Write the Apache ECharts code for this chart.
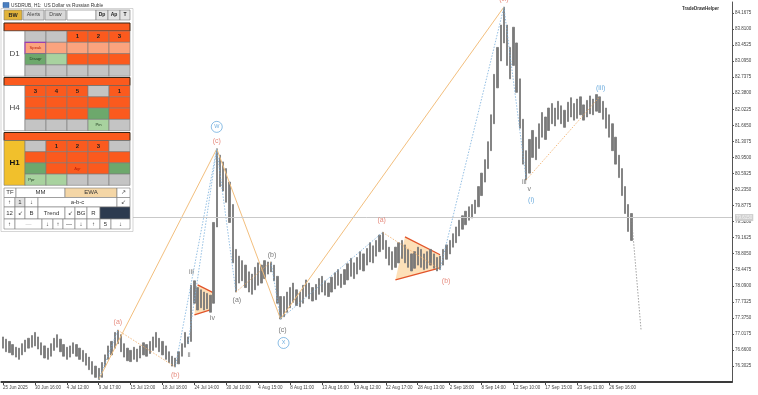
<!DOCTYPE html>
<html><head><meta charset="utf-8">
<script src="https://cdn.jsdelivr.net/npm/echarts@6/dist/echarts.min.js"></script>
<style>html,body{margin:0;padding:0;background:#fff}#c{width:758px;height:395px}</style>
</head><body><div id="c"></div>
<script>
// ---------- data ----------
const tickLabels = ['25 Jun 2025','30 Jun 16:00','4 Jul 12:00','9 Jul 17:00','15 Jul 13:00','18 Jul 18:00','24 Jul 14:00','30 Jul 10:00','4 Aug 15:00','8 Aug 11:00','13 Aug 16:00','19 Aug 12:00','22 Aug 17:00','28 Aug 13:00','2 Sep 18:00','8 Sep 14:00','12 Sep 10:00','17 Sep 15:00','23 Sep 11:00','26 Sep 16:00'];
const yTicks = [84.1675,83.8100,83.4525,83.0950,82.7375,82.3800,82.0225,81.6650,81.3075,80.9500,80.5925,80.2350,79.8775,79.5200,79.1625,78.8050,78.4475,78.0900,77.7325,77.3750,77.0175,76.6600,76.3025];
const lastPrice = 79.6150;
const highs = [76.95,76.90,76.85,76.78,76.72,76.70,76.80,76.88,76.92,76.98,77.05,76.95,76.82,76.75,76.70,76.80,76.92,77.00,76.90,76.78,
76.72,76.75,76.82,76.78,76.70,76.65,76.58,76.50,76.40,76.30,76.25,76.38,76.55,76.75,76.85,77.05,77.10,77.00,76.80,76.70,
76.65,76.72,76.68,76.75,76.82,76.78,76.85,76.95,77.05,76.92,76.85,76.75,76.62,76.52,76.48,76.62,76.80,77.05,76.95,78.10,
78.20,78.05,78.00,77.95,77.92,77.88,79.50,81.14,81.00,80.85,80.70,80.40,79.90,78.90,78.75,78.65,78.55,78.40,78.35,78.50,
78.60,78.55,78.65,78.62,78.62,78.55,78.30,77.85,77.85,77.95,78.05,78.15,78.00,77.95,78.10,78.22,78.15,78.05,78.12,78.25,
78.30,78.20,78.15,78.28,78.38,78.45,78.35,78.45,78.58,78.70,78.60,78.72,78.85,78.80,78.92,79.05,78.98,79.10,79.22,79.28,
79.10,78.95,78.85,78.95,79.05,79.10,79.00,78.90,78.80,78.85,78.95,78.90,78.80,78.85,78.90,78.80,78.72,78.75,78.90,79.00,
79.10,79.25,79.40,79.55,79.65,79.75,79.85,79.90,80.00,80.30,80.60,80.90,81.30,81.90,82.80,83.40,83.90,84.30,83.90,83.40,
83.85,83.50,82.70,81.80,81.10,81.35,81.55,81.40,81.70,81.95,81.85,82.05,82.15,82.05,82.20,82.10,82.00,82.18,82.28,82.15,
82.25,82.30,82.12,82.22,82.32,82.25,82.35,82.30,82.20,82.05,81.90,81.70,81.40,81.00,80.70,80.30,79.90,79.70];
const lows = [76.70,76.62,76.60,76.55,76.50,76.45,76.55,76.62,76.70,76.72,76.75,76.68,76.55,76.48,76.45,76.52,76.65,76.72,76.62,76.52,
76.45,76.50,76.58,76.52,76.45,76.40,76.32,76.22,76.12,76.05,76.00,76.05,76.28,76.45,76.55,76.70,76.80,76.62,76.50,76.42,
76.40,76.45,76.40,76.48,76.55,76.52,76.58,76.65,76.72,76.62,76.55,76.45,76.38,76.30,76.28,76.35,76.52,76.72,76.80,76.85,
77.70,77.55,77.60,77.55,77.58,77.50,77.70,79.40,80.30,80.20,79.95,79.50,78.60,77.95,78.15,78.20,78.05,77.95,77.90,78.00,
78.10,78.15,78.25,78.35,78.40,78.20,77.70,77.35,77.40,77.50,77.60,77.72,77.65,77.62,77.70,77.85,77.80,77.75,77.78,77.90,
77.95,77.88,77.85,77.95,78.02,78.10,78.05,78.12,78.22,78.30,78.25,78.35,78.45,78.42,78.55,78.62,78.60,78.75,78.85,78.90,
78.70,78.55,78.45,78.50,78.60,78.70,78.60,78.50,78.42,78.48,78.55,78.50,78.45,78.48,78.55,78.48,78.42,78.45,78.55,78.68,
78.80,78.95,79.05,79.20,79.35,79.45,79.55,79.60,79.70,79.85,80.10,80.40,80.70,81.10,81.70,82.50,83.10,83.50,83.00,82.70,
83.00,82.40,81.60,80.80,80.45,80.60,80.95,80.90,81.15,81.40,81.35,81.55,81.70,81.65,81.80,81.70,81.62,81.75,81.85,81.78,
81.82,81.90,81.78,81.85,81.92,81.90,81.98,81.95,81.80,81.60,81.40,81.10,80.80,80.50,80.10,79.70,79.30,79.10];
// wave pivots [bar index, price]
const P0 = [30, 76.00], Pa = [36, 77.10], Pb = [54, 76.28], Pii = [58, 76.80], Piii = [60, 78.20], Piv = [65, 77.48];
const W = [67, 81.14], Pa2 = [73, 77.95], Pb2 = [84, 78.62], X = [87, 77.35];
const A3 = [119, 79.28], B3 = [137, 78.45], Top = [157, 84.30], V = [164, 80.45], I3 = [187, 82.30];
const Last = [197, 79.615], Proj = [200, 77.10];
const zigzag = [P0, W, X, Top];
const blueDotted = [[P0, Pa], [Pb, W], [Pii, W], [W, Pa2], [Pb2, X], [X, A3], [B3, Top], [Top, V]];
const orangeDotted = [[Pa, Pb], [Pa2, Pb2], [A3, B3], [V, I3]];
const tri1 = [[60.5, 78.11], [65.7, 77.93], [65.1, 77.55], [59.8, 77.44]];
const tri2 = [[125.8, 79.18], [137, 78.78], [137, 78.49], [122.9, 78.22]];
// wave labels: text, pivot, dx, dy, kind
const waveLabels = [
  ['(a)', Pa, 0, -8, 'red'], ['(b)', Pb, 0, 8, 'red'], ['ii', Pii, 1, 11, 'gray'], ['iii', Piii, -3, -9, 'gray'],
  ['iv', Piv, 2, 5, 'gray'], ['(c)', W, 0, -8, 'red'], ['W', W, 0, -22, 'circle'],
  ['(a)', Pa2, 1, 8, 'gray'], ['(b)', Pb2, 1, -7, 'gray'], ['(c)', X, 2, 11, 'gray'], ['X', X, 3, 24, 'circle'],
  ['(a)', A3, -1, -12, 'red'], ['(b)', B3, 6, 11, 'red'], ['(iii)', Top, 0, -8, 'red'],
  ['iii', V, -2, 2, 'gray'], ['v', V, 3, 9, 'gray'], ['(i)', V, 5, 20, 'blue'], ['(iii)', I3, 1, -9, 'blue']
];

// ---------- chart ----------
const nCats = 229;
const cats = Array.from({length: nCats}, (_, i) => String(i));
const candles = highs.map((h, i) => [lows[i], h, lows[i], h]);
const FONT = 'Liberation Sans';
const showTick = (i) => i % 10 === 0 && i / 10 < tickLabels.length;

function lineSeries(pts, color, type, width) {
  return {type: 'line', data: pts, symbol: 'none', silent: true, z: 3, animation: false,
    lineStyle: {color, type, width: width || 1}};
}
const series = [];
series.push({type: 'candlestick', data: candles, barWidth: 1.8, z: 2, animation: false, silent: true,
  itemStyle: {color: '#7a7a7a', color0: '#7a7a7a', borderColor: '#777777', borderColor0: '#777777', borderWidth: 0.8},
  markLine: {silent: true, symbol: 'none', animation: false,
    lineStyle: {color: '#c9c9c9', type: 'solid', width: 1},
    label: {show: true, position: 'end', distance: 3, formatter: lastPrice.toFixed(4), backgroundColor: '#cfcfcf', color: '#f6f6f6', fontSize: 4.5, fontFamily: FONT, padding: [1, 1]},
    data: [{yAxis: lastPrice}]}});
series.push(lineSeries(zigzag, '#f3bf7e', 'solid', 1));
blueDotted.forEach(p => series.push(lineSeries(p, '#79afdc', [1.5, 1.5], 0.8)));
orangeDotted.forEach(p => series.push(lineSeries(p, '#f0a860', [1.5, 1.5], 0.8)));
series.push(lineSeries([Last, Proj], '#8a8a8a', [1.5, 1.5], 0.8));
// triangles
[tri1, tri2].forEach(tri => {
  series.push({type: 'custom', silent: true, z: 1, animation: false, data: [0],
    renderItem: (params, api) => {
      const c = tri.map(p => api.coord(p));
      return {type: 'group', children: [
        {type: 'polygon', shape: {points: c}, style: {fill: 'rgba(252,214,160,0.75)'}},
        {type: 'line', shape: {x1: c[0][0], y1: c[0][1], x2: c[1][0], y2: c[1][1]}, style: {stroke: '#e2542a', lineWidth: 1.3}},
        {type: 'line', shape: {x1: c[3][0], y1: c[3][1], x2: c[2][0], y2: c[2][1]}, style: {stroke: '#e2542a', lineWidth: 1.3}}
      ]};
    }});
});
// wave labels
const labelColors = {red: '#e06d5c', gray: '#555555', blue: '#4a98d6', circle: '#4a98d6'};
series.push({type: 'scatter', symbolSize: 0, silent: true, z: 5, animation: false,
  data: waveLabels.map(([t, p, dx, dy, k]) => ({
    value: p,
    label: Object.assign({show: true, formatter: t, position: 'inside', offset: [dx, dy], color: labelColors[k], fontSize: 7, fontFamily: FONT},
      k === 'circle' ? {fontSize: 5.5, borderColor: '#4a98d6', borderWidth: 0.8, borderRadius: 6, width: 11, height: 11, lineHeight: 11, align: 'center', padding: 0} : {})
  }))});

// ---------- panel graphic ----------
const G = [];
function cell(x, y, w, h, fill, text, o) {
  o = o || {};
  G.push({type: 'rect', shape: {x, y, width: w, height: h}, style: {fill, stroke: o.stroke || '#7a7a7a', lineWidth: o.lw || 0.6}, z: 100});
  if (text) G.push({type: 'text', x: x + w / 2 + (o.dx || 0), y: y + h / 2, style: {text, fill: o.color || '#222', font: (o.bold ? 'bold ' : '') + (o.fs || 5.5) + 'px "' + FONT + '"', align: 'center', verticalAlign: 'middle'}, z: 101});
}
const C = {g: '#c4c4c4', o: '#fb5a1e', s: '#fba37e', G: '#6da86c', l: '#a8d29f', w: '#ffffff'};
G.push({type: 'rect', shape: {x: 1, y: 8.5, width: 132, height: 223}, style: {fill: '#ffffff', stroke: '#bbbbbb', lineWidth: 0.6}, z: 99});
// title & icon
G.push({type: 'rect', shape: {x: 3, y: 2.5, width: 6, height: 5}, style: {fill: '#4a7fc0', stroke: '#2a5a9a', lineWidth: 0.5}, z: 101});
G.push({type: 'text', x: 11, y: 5.5, style: {text: 'USDRUB, H1:  US Dollar vs Russian Ruble', fill: '#333', font: '4.8px "' + FONT + '"', verticalAlign: 'middle'}, z: 101});
G.push({type: 'text', x: 682, y: 9, style: {text: 'TradeDrawHelper', fill: '#333', font: 'bold 4.5px "' + FONT + '"', verticalAlign: 'middle'}, z: 101});
// buttons
cell(4, 10, 18, 10, '#e2b43a', 'BW', {bold: true, fs: 5.5});
cell(23, 10, 21, 10, '#d9d9d9', 'Alerts', {fs: 5.3, color: '#444'});
cell(45, 10, 21, 10, '#d9d9d9', 'Draw', {fs: 5.3, color: '#444'});
cell(67, 10, 29, 10, '#ffffff', '');
cell(96, 10, 12, 10, '#e4e4e4', 'Dp', {bold: true, fs: 5});
cell(108, 10, 12, 10, '#e4e4e4', 'Ap', {bold: true, fs: 5});
cell(120, 10, 10, 10, '#e4e4e4', 'T', {bold: true, fs: 5});
const colsX = [25, 46, 67, 88, 109, 130];
function block(top, label, labelFill, grid, rowH, labelBold) {
  cell(4, top, 126, 8, C.o, '', {stroke: '#3a2412', lw: 1});
  const y0 = top + 8;
  cell(4, y0, 21, rowH * 4, labelFill, label, {fs: 8, bold: labelBold, color: labelBold ? '#111' : '#444'});
  grid.forEach((row, r) => row.forEach((c, j) => {
    const [k, t, extra] = c;
    cell(colsX[j], y0 + r * rowH, colsX[j + 1] - colsX[j], rowH, C[k], t,
      Object.assign({bold: t && t.length === 1, fs: t && t.length === 1 ? 6 : 4.2, color: t && t.length > 1 ? (k === 's' || k === 'o' ? '#b81e0a' : '#1d3a1d') : '#222'}, extra || {}));
  }));
}
const d1Grid = [
  [['g'], ['g'], ['o', '1'], ['o', '2'], ['o', '3']],
  [['s', 'Speak', {stroke: '#9a3fb0', lw: 1.2}], ['s'], ['s'], ['s'], ['s']],
  [['G', 'Disagr'], ['l'], ['o'], ['o'], ['o']],
  [['g'], ['g'], ['g'], ['g'], ['g']]];
const h4Grid = [
  [['o', '3'], ['o', '4'], ['o', '5'], ['g'], ['o', '1']],
  [['o'], ['o'], ['o'], ['o'], ['o']],
  [['o'], ['o'], ['o'], ['G'], ['o']],
  [['g'], ['g'], ['g'], ['l', 'Pin'], ['g']]];
const h1Grid = [
  [['g'], ['o', '1'], ['o', '2'], ['o', '3'], ['g']],
  [['o'], ['o'], ['o'], ['o'], ['o']],
  [['G'], ['o'], ['o', 'Agr'], ['o'], ['G']],
  [['l', 'Ppr', {dx: -4}], ['l'], ['g'], ['g'], ['g']]];
block(23, 'D1', C.w, d1Grid, 11.3, false);
block(77.5, 'H4', C.w, h4Grid, 11.3, false);
block(132.5, 'H1', '#f1c02c', h1Grid, 11.2, true);
// control table
const ctrl = [
  [188, 9.5, [[4, 12, 'TF'], [16, 49, 'MM'], [65, 52, 'EWA', '#f4d6a6'], [117, 13, '\u2197']]],
  [197.5, 9.5, [[4, 11, '\u2191'], [15, 10, '1', '#e2e2e2'], [25, 13, '\u2193'], [38, 79, 'a-b-c'], [117, 13, '\u2199']]],
  [207, 12, [[4, 11, '12'], [15, 10, '\u2199'], [25, 13, 'B'], [38, 27, 'Trend'], [65, 10, '\u2199'], [75, 12, 'BG'], [87, 13, 'R'], [100, 30, '', '#2c3a4f']]],
  [219, 10, [[4, 11, '\u2191'], [15, 27, '\u2014', '#ffffff'], [42, 11, '\u2193'], [53, 10, '\u2191'], [63, 12, '\u2014'], [75, 12, '\u2193'], [87, 13, '\u2191'], [100, 11, '5'], [111, 19, '\u2193']]]];
ctrl.forEach(([y, h, cs]) => cs.forEach(([x, w, t, f]) => cell(x, y, w, h, f || '#ffffff', t, {fs: 6, color: t === '\u2014' && w > 20 ? '#bbbbbb' : '#333'})));

const option = {
  animation: false,
  backgroundColor: '#ffffff',
  grid: {left: 0, right: 26, top: 2, bottom: 13},
  xAxis: {type: 'category', data: cats, boundaryGap: true,
    axisLine: {show: true, lineStyle: {color: '#3a3a3a', width: 2}},
    axisTick: {show: true, alignWithLabel: true, interval: (i) => showTick(i), length: 3, lineStyle: {color: '#444'}},
    axisLabel: {interval: (i) => showTick(i), formatter: (v, i) => tickLabels[i / 10] || '', align: 'left', fontSize: 4.5, color: '#444', margin: 3, fontFamily: FONT},
    splitLine: {show: false}},
  yAxis: {type: 'value', position: 'right', min: 75.9456, max: 84.4126, scale: true,
    axisLine: {show: true, lineStyle: {color: '#555', width: 1}},
    axisTick: {show: true, customValues: yTicks, length: 2, lineStyle: {color: '#555'}},
    axisLabel: {customValues: yTicks, formatter: (v) => v.toFixed(4), fontSize: 4.5, color: '#444', margin: 3, fontFamily: FONT},
    splitLine: {show: false}},
  series,
  graphic: {elements: G}
};
const chart = echarts.init(document.getElementById('c'), null, {renderer: 'canvas'});
chart.setOption(option);
</script>
</body></html>
